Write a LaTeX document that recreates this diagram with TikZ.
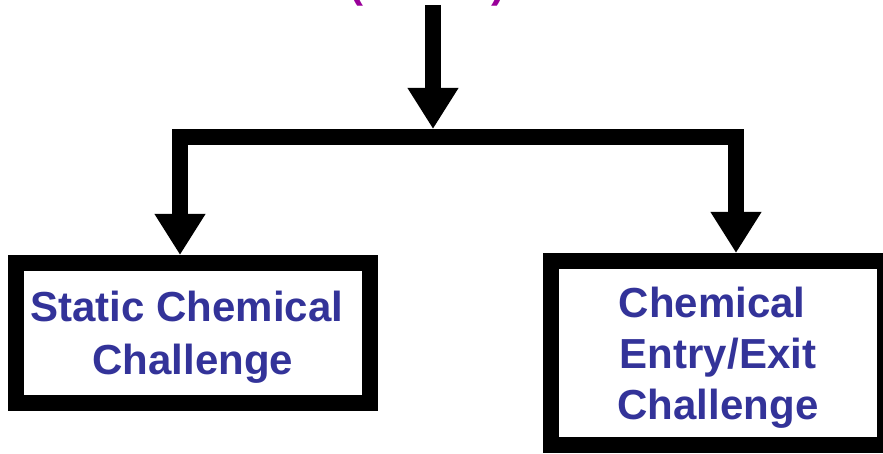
\documentclass[tikz,border=0pt]{standalone}
\usepackage{fontspec}
\setmainfont{Liberation Sans}
\usetikzlibrary{arrows.meta}
\definecolor{txtblue}{HTML}{333399}
\definecolor{parpurple}{HTML}{990099}
\tikzset{
  conn/.style={line width=15.5pt, line join=miter, -{Triangle[width=48pt,length=41pt]}},
  box/.style={draw, line width=16pt, fill=white, text=txtblue, align=center, inner sep=0pt, text depth=0pt},
  boxfont/.style={font=\fontsize{42}{#1}\selectfont\bfseries}
}
\begin{document}
\begin{tikzpicture}[x=1pt,y=-1pt]
\useasboundingbox (0,0) rectangle (883,454);
% partly visible heading (only lower ends of the brackets show)
\node[anchor=base west, text=parpurple, font=\fontsize{42}{50}\selectfont\bfseries, inner sep=0pt] (head) at (349,-2) {(\hspace{128pt})};
% boxes
\node[box, boxfont=53, minimum width=353.5pt, minimum height=140pt] (L) at (192.75,333)
  {Static Chemical\hspace*{0.278em}\\Challenge};
\node[box, boxfont=51, minimum width=334pt, minimum height=184pt] (R) at (718,353)
  {Chemical\hspace*{0.278em}\\Entry/Exit\hspace*{0.278em}\\Challenge};
% connectors
\coordinate (T) at (433,5);
\coordinate (Jt) at (433,129);
\coordinate (J) at (433,137);
\draw[conn] (T) -- (Jt);
\draw[conn] (J) -| ([xshift=-12.75pt]L.north);
\draw[conn] (J) -| ([xshift=18pt]R.north);
\end{tikzpicture}
\end{document}
